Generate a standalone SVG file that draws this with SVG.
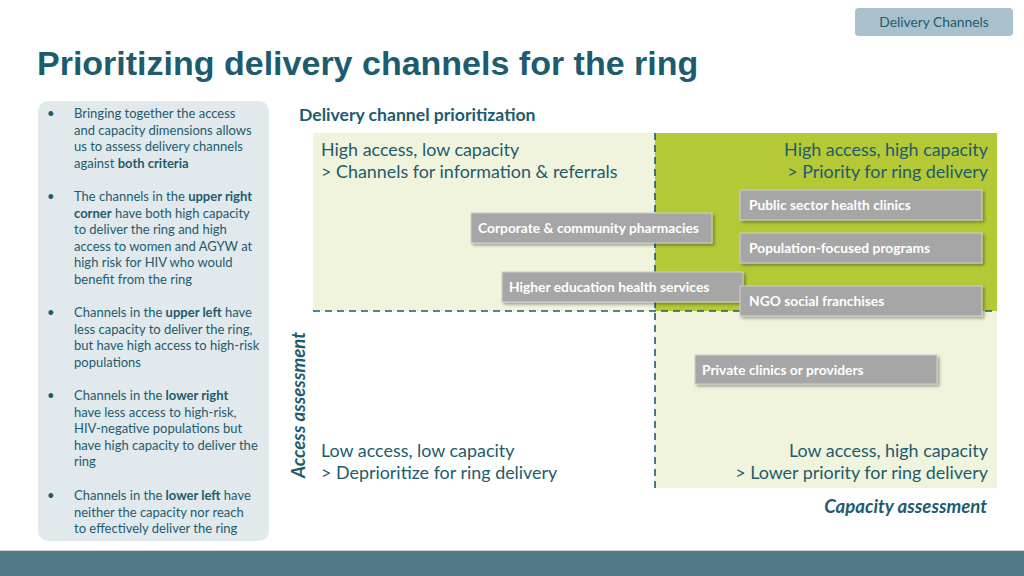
<svg xmlns="http://www.w3.org/2000/svg" width="1024" height="576" viewBox="0 0 1024 576">
<defs>
<filter id="sh" x="-10%" y="-30%" width="130%" height="180%">
<feDropShadow dx="2" dy="2" stdDeviation="1.5" flood-color="#000" flood-opacity="0.35"/>
</filter>
</defs>
<style>
.body{font-family:Lato,"Open Sans","Liberation Sans",sans-serif;fill:#1d5b6e}
.side{font-size:13px}
.b{font-weight:bold}
.q{font-size:17.9px}
.box rect{fill:#a6a6a6;stroke:#cfcfcf;stroke-width:1;filter:url(#sh)}
.box text{font-family:Lato,"Open Sans","Liberation Sans",sans-serif;font-weight:bold;font-size:13.8px;fill:#fff}
.dash{stroke:#1d5b6e;stroke-width:1.6;stroke-dasharray:7,5;fill:none}
</style>
<rect width="1024" height="576" fill="#fff"/>
<g id="tab">
<rect x="855" y="8" width="158" height="28" rx="4" fill="#a9c1cc"/>
<text x="934" y="27" text-anchor="middle" class="body" font-size="13.8">Delivery Channels</text>
</g>
<text x="37" y="75" font-family="'Liberation Sans',Arial,sans-serif" font-weight="bold" font-size="34" fill="#1d5b6e">Prioritizing delivery channels for the ring</text>
<g id="sidepanel">
<rect x="38" y="101" width="231" height="440" rx="10" fill="#e2e9ed"/>
<g class="body side">
<text x="47" y="118">•</text>
<text x="74" y="118">Bringing together the access</text>
<text x="74" y="134.5">and capacity dimensions allows</text>
<text x="74" y="151">us to assess delivery channels</text>
<text x="74" y="167.5">against <tspan class="b">both criteria</tspan></text>
<text x="47" y="201">•</text>
<text x="74" y="201">The channels in the <tspan class="b">upper right</tspan></text>
<text x="74" y="217.5"><tspan class="b">corner</tspan> have both high capacity</text>
<text x="74" y="234">to deliver the ring and high</text>
<text x="74" y="250.5">access to women and AGYW at</text>
<text x="74" y="267">high risk for HIV who would</text>
<text x="74" y="283.5">benefit from the ring</text>
<text x="47" y="317">•</text>
<text x="74" y="317">Channels in the <tspan class="b">upper left</tspan> have</text>
<text x="74" y="333.5">less capacity to deliver the ring,</text>
<text x="74" y="350">but have high access to high-risk</text>
<text x="74" y="366.5">populations</text>
<text x="47" y="400">•</text>
<text x="74" y="400">Channels in the <tspan class="b">lower right</tspan></text>
<text x="74" y="416.5">have less access to high-risk,</text>
<text x="74" y="433">HIV-negative populations but</text>
<text x="74" y="449.5">have high capacity to deliver the</text>
<text x="74" y="466">ring</text>
<text x="47" y="500">•</text>
<text x="74" y="500">Channels in the <tspan class="b">lower left</tspan> have</text>
<text x="74" y="516.5">neither the capacity nor reach</text>
<text x="74" y="533">to effectively deliver the ring</text>
</g>
</g>
<text x="299" y="121" class="body b" font-size="17.6">Delivery channel prioritization</text>
<g id="quadrants">
<rect x="313" y="133" width="342" height="178" fill="#f1f4dc"/>
<rect x="655" y="133" width="342" height="178" fill="#b5c937"/>
<rect x="655" y="311" width="342" height="177" fill="#f1f4dc"/>
</g>
<g id="connectors">
<line class="dash" x1="313" y1="311" x2="997" y2="311"/>
<line class="dash" x1="655" y1="133" x2="655" y2="488"/>
</g>
<g class="body q">
<text x="321" y="156">High access, low capacity</text>
<text x="321" y="178">&gt; Channels for information &amp; referrals</text>
<text x="988" y="156" text-anchor="end">High access, high capacity</text>
<text x="988" y="178" text-anchor="end">&gt; Priority for ring delivery</text>
<text x="321" y="457">Low access, low capacity</text>
<text x="321" y="479">&gt; Deprioritize for ring delivery</text>
<text x="988" y="457" text-anchor="end">Low access, high capacity</text>
<text x="988" y="479" text-anchor="end">&gt; Lower priority for ring delivery</text>
</g>
<text x="987" y="513" text-anchor="end" class="body b" font-style="italic" font-size="18.6">Capacity assessment</text>
<text transform="translate(305,405) rotate(-90)" text-anchor="middle" class="body b" font-style="italic" font-size="18.6">Access assessment</text>
<g id="public" class="box"><rect x="740" y="190" width="242" height="30"/><text x="749" y="210">Public sector health clinics</text></g>
<g id="population" class="box"><rect x="740" y="233" width="242" height="30"/><text x="749" y="253">Population-focused programs</text></g>
<g id="corporate" class="box"><rect x="471" y="213" width="241" height="30"/><text x="478" y="233">Corporate &amp; community pharmacies</text></g>
<g id="higher" class="box"><rect x="502" y="272" width="241" height="30"/><text x="509" y="292">Higher education health services</text></g>
<g id="ngo" class="box"><rect x="740" y="286" width="242" height="30"/><text x="749" y="306">NGO social franchises</text></g>
<g id="private" class="box"><rect x="695" y="355" width="242" height="29"/><text x="702" y="375">Private clinics or providers</text></g>
<rect x="0" y="550" width="1024" height="1" fill="#c9d3d8"/>
<rect x="0" y="551" width="1024" height="25" fill="#537888"/>
</svg>
